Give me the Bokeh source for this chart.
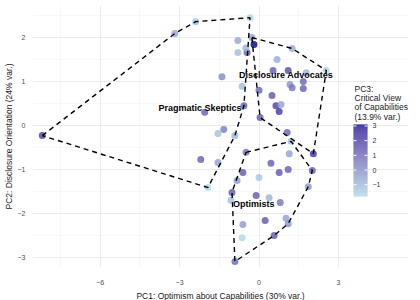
import numpy as np
from bokeh.plotting import figure
from bokeh.models import ColumnDataSource, LinearColorMapper, FixedTicker, Range1d
from bokeh.embed import file_html
from bokeh.resources import INLINE
from bokeh.core.properties import value

# ---------------- data ----------------
pc1 = [-8.18, -3.18, -2.39, -2.05, -0.34, -0.27, -0.19, -0.80, -0.80, -0.45,
       -0.50, 1.25, 0.68, 2.54, -1.40, 0.53, 1.10, 1.78, 1.17, 1.25,
       1.67, 1.67, -0.64, 0.00, 0.49, -0.57, 0.64, 0.83, 0.76, 0.04,
       -1.33, -1.55, -0.91, 1.06, 1.21, 2.05, -0.49, 1.14, -2.20, -1.55,
       0.45, 0.76, 1.10, 2.01, -0.61, -1.93, -0.83, 0.00, 1.86, -1.02,
       -1.06, -0.11, 0.38, 0.80, -0.61, -0.64, 0.23, 1.02, 1.10, 0.57,
       -0.91]
pc2 = [-0.23, 2.09, 2.36, 0.30, 2.45, 2.00, 1.84, 1.93, 1.66, 1.66,
       1.76, 1.75, 1.50, 1.25, 1.11, 1.25, 1.25, 1.20, 0.93, 0.86,
       1.00, 0.84, 0.89, 0.80, 0.68, 0.45, 0.45, 0.48, 0.32, 0.18,
       -0.09, -0.18, -0.23, -0.16, -0.36, -0.64, -0.61, -0.64, -0.77, -0.84,
       -0.86, -1.07, -1.00, -1.02, -1.07, -1.41, -1.25, -1.18, -1.39, -1.52,
       -1.70, -1.59, -1.64, -1.75, -2.25, -2.55, -2.16, -2.11, -2.23, -2.50,
       -3.09]
pc3 = [1.8, -0.6, -1.3, 1.0, -1.8, -0.5, 3.1, -0.7, -1.2, 1.2,
       -1.0, -0.7, -0.8, -1.8, 0.0, 1.0, 1.5, -1.0, -0.2, 0.5,
       0.9, 1.0, -1.2, 0.8, 1.2, 1.0, 1.8, -0.6, 2.0, 1.2,
       0.3, -1.3, -1.0, 1.0, -1.2, 2.2, 0.5, -0.5, 1.0, -0.5,
       1.0, 1.2, 1.0, 1.0, 1.2, -1.8, -0.4, -1.4, -0.3, 1.2,
       -1.3, 1.2, -1.0, 0.5, -0.4, -1.8, 1.2, -0.5, -0.3, 1.3,
       0.8]

hull_skeptics_x = [-8.18, -3.18, -2.39, -0.34, -0.57, -0.91, -1.93]
hull_skeptics_y = [-0.23, 2.09, 2.36, 2.45, 0.45, -0.23, -1.41]
hull_advocates_x = [-0.27, 1.25, 2.54, 2.05, 0.04]
hull_advocates_y = [2.00, 1.75, 1.25, -0.64, 0.18]
hull_optimists_x = [-0.49, 1.21, 2.01, 1.86, 1.10, 0.57, -0.91, -1.02]
hull_optimists_y = [-0.61, -0.36, -1.02, -1.39, -2.23, -2.50, -3.09, -1.52]

cluster_names = ["Pragmatic Skeptics", "Disclosure Advocates", "Optimists"]
label_x = [-2.23, 1.02, -0.20]
label_y = [0.39, 1.15, -1.78]

x_ticks = [-6, -3, 0, 3]
x_minor = [-7.5, -4.5, -1.5, 1.5]
y_ticks = [-3, -2, -1, 0, 1, 2]
y_minor = [-2.5, -1.5, -0.5, 0.5, 1.5, 2.5]
cbar_ticks = [-1, 0, 1, 2, 3]
cbar_title_lines = ["PC3:", "Critical View", "of Capabilities", "(13.9% var.)"]

# ---------------- palette (Lab interpolation lightblue -> darkblue) ----------
def hex2rgb(h):
    h = h.lstrip("#")
    return np.array([int(h[i:i + 2], 16) for i in (0, 2, 4)]) / 255.0

def srgb2lab(c):
    c = np.where(c <= 0.04045, c / 12.92, ((c + 0.055) / 1.055) ** 2.4)
    M = np.array([[0.4124, 0.3576, 0.1805], [0.2126, 0.7152, 0.0722],
                  [0.0193, 0.1192, 0.9505]])
    xyz = M @ c / np.array([0.95047, 1.0, 1.08883])
    f = np.where(xyz > 0.008856, np.cbrt(xyz), 7.787 * xyz + 16 / 116)
    return np.array([116 * f[1] - 16, 500 * (f[0] - f[1]), 200 * (f[1] - f[2])])

def lab2hex(lab):
    L, a, b = lab
    fy = (L + 16) / 116
    fx = fy + a / 500
    fz = fy - b / 200
    f = np.array([fx, fy, fz])
    xyz = np.where(f ** 3 > 0.008856, f ** 3, (f - 16 / 116) / 7.787)
    xyz = xyz * np.array([0.95047, 1.0, 1.08883])
    Mi = np.array([[3.2406, -1.5372, -0.4986], [-0.9689, 1.8758, 0.0415],
                   [0.0557, -0.2040, 1.0570]])
    c = Mi @ xyz
    c = np.where(c <= 0.0031308, 12.92 * c, 1.055 * np.clip(c, 0, None) ** (1 / 2.4) - 0.055)
    c = np.clip(c, 0, 1)
    return "#%02x%02x%02x" % tuple(int(round(v * 255)) for v in c)

lab_lo = srgb2lab(hex2rgb("#ADD8E6"))
lab_hi = srgb2lab(hex2rgb("#00008B"))
palette = [lab2hex(lab_lo + (lab_hi - lab_lo) * t) for t in np.linspace(0, 1, 256)]

c_lo, c_hi = min(pc3), max(pc3)
mapper = LinearColorMapper(palette=palette, low=c_lo, high=c_hi)

# ---------------- figure (frame extends right to host the legend) ----------
FONT = "Liberation Sans"
X0, X1 = -8.55, 3.075          # data panel
Y0, Y1 = -3.227, 2.727
PXU = 308 / (X1 - X0)          # px per x unit
FH = 262
PYU = FH / (Y1 - Y0)
FW = 376
XE = X0 + FW / PXU             # extended right end (legend area)
FL, FT = 32, 5                 # page position of the frame's top-left corner

p = figure(frame_width=FW, frame_height=FH, output_backend="svg",
           toolbar_location=None,
           x_range=Range1d(X0, XE), y_range=Range1d(Y0, Y1),
           min_border_top=FT, min_border_left=0, min_border_bottom=30,
           min_border_right=0)
p.outline_line_color = None

for ax in (p.xaxis[0], p.yaxis[0]):
    ax.axis_line_color = None
    ax.major_tick_line_color = None
    ax.minor_tick_line_color = None
    ax.major_label_text_font = FONT
    ax.major_label_text_font_size = "7px"
    ax.major_label_text_color = "#4D4D4D"
    ax.axis_label_text_font = FONT
    ax.axis_label_text_font_size = "8.5px"
    ax.axis_label_text_font_style = "normal"
    ax.axis_label_text_color = "#1A1A1A"
p.xaxis.major_label_standoff = 6
p.xaxis.axis_label_standoff = 3
p.yaxis.major_label_standoff = 1
p.yaxis.axis_label_standoff = 1
p.xaxis.bounds = (X0, X1)

p.xaxis.ticker = FixedTicker(ticks=x_ticks, minor_ticks=x_minor)
p.yaxis.ticker = FixedTicker(ticks=y_ticks, minor_ticks=y_minor)
p.xaxis.major_label_overrides = {t: str(t).replace("-", "\u2212") for t in x_ticks}
p.yaxis.major_label_overrides = {t: str(t).replace("-", "\u2212") for t in y_ticks}
p.xaxis.axis_label = "PC1: Optimism about Capabilities (30% var.)"
p.yaxis.axis_label = "PC2: Disclosure Orientation (24% var.)"

for g in (p.xgrid[0], p.ygrid[0]):
    g.grid_line_color = "#EBEBEB"
    g.grid_line_width = 1
    g.minor_grid_line_color = "#F4F4F4"
    g.minor_grid_line_width = 0.6
p.ygrid.bounds = (X0, X1)

src = ColumnDataSource(dict(x=pc1, y=pc2, c=pc3))
p.scatter("x", "y", source=src, size=7,
          fill_color={"field": "c", "transform": mapper},
          fill_alpha=0.8, line_color=None)

hx = [hull_skeptics_x + hull_skeptics_x[:1], hull_advocates_x + hull_advocates_x[:1],
      hull_optimists_x + hull_optimists_x[:1]]
hy = [hull_skeptics_y + hull_skeptics_y[:1], hull_advocates_y + hull_advocates_y[:1],
      hull_optimists_y + hull_optimists_y[:1]]
p.multi_line(hx, hy, line_color="black", line_width=1.4, line_dash="5 4")

p.text(label_x, label_y, text=cluster_names, text_font=value(FONT),
       text_font_size="9px", text_font_style="bold", text_color="black",
       text_align="center", text_baseline="middle")

# ---------------- colour-bar legend, laid out in page pixels ----------
def dx(px):
    return X0 + (px - FL) / PXU

def dy(py):
    return Y1 - (py - FT) / PYU

BAR_L, BAR_R, BAR_T, BAR_B = 353, 367, 124, 196
n = BAR_B - BAR_T
vals = [c_lo + (c_hi - c_lo) * (i + 0.5) / n for i in range(n)]
cols = [palette[min(255, int((v - c_lo) / (c_hi - c_lo) * 256))] for v in vals]
p.quad(left=[dx(BAR_L)] * n, right=[dx(BAR_R)] * n,
       bottom=[dy(BAR_B - i) for i in range(n)],
       top=[dy(BAR_B - i - 1.05) for i in range(n)],
       fill_color=cols, line_color=None)

tick_py = [BAR_B - (t - c_lo) / (c_hi - c_lo) * n for t in cbar_ticks]
p.segment(x0=[dx(BAR_L)] * len(cbar_ticks), x1=[dx(BAR_L + 3)] * len(cbar_ticks),
          y0=[dy(v) for v in tick_py], y1=[dy(v) for v in tick_py],
          line_color="white", line_width=1)
p.segment(x0=[dx(BAR_R - 3)] * len(cbar_ticks), x1=[dx(BAR_R)] * len(cbar_ticks),
          y0=[dy(v) for v in tick_py], y1=[dy(v) for v in tick_py],
          line_color="white", line_width=1)
p.text(x=[dx(BAR_R + 5)] * len(cbar_ticks), y=[dy(v) for v in tick_py],
       text=[str(t).replace("-", "\u2212") for t in cbar_ticks],
       text_font=value(FONT), text_font_size="7px", text_color="#333333",
       text_align="left", text_baseline="middle")

p.text(x=[dx(354)] * len(cbar_title_lines),
       y=[dy(88 + 9.4 * i) for i in range(len(cbar_title_lines))],
       text=cbar_title_lines, text_font=value(FONT), text_font_size="8.5px",
       text_color="#1A1A1A", text_align="left", text_baseline="middle")

open("out.html", "w").write(file_html(p, INLINE))
